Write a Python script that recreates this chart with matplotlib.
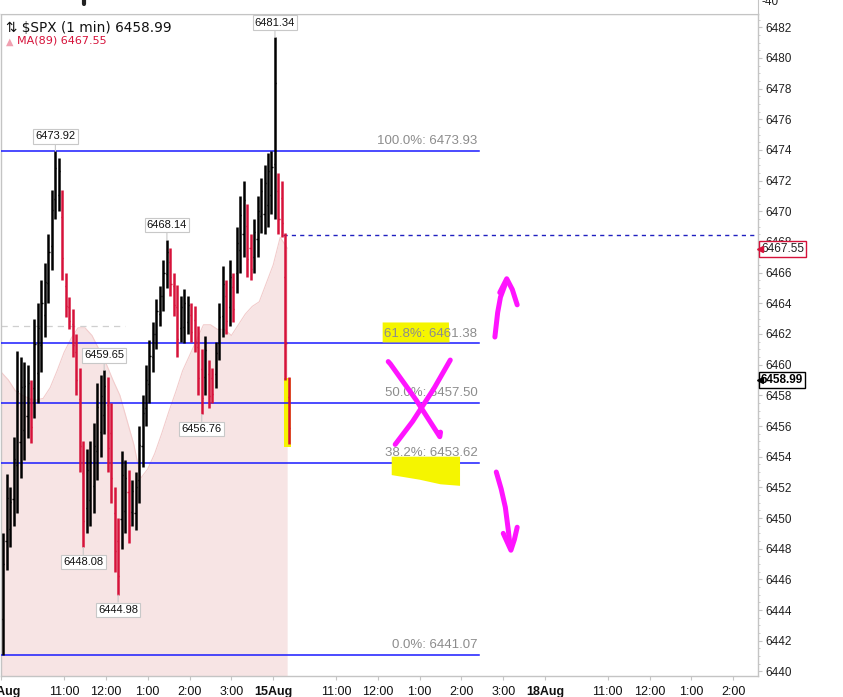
import matplotlib
matplotlib.use("Agg")
import matplotlib.pyplot as plt
from matplotlib.patches import Polygon
from matplotlib.ticker import MultipleLocator
import numpy as np

# 5-minute high/low, minutes counted from Aug 14 09:30
# (bars 0-77 = Aug 14 session, 78-82 = first minutes of Aug 15)
bar_high = [6449.0, 6452.9, 6452.0, 6455.3, 6460.9, 6460.5, 6460.2, 6460.0, 6459.0, 6463.0,
            6464.0, 6465.5, 6466.6, 6468.5, 6471.4, 6473.92, 6473.5, 6471.4, 6466.0, 6464.4,
            6463.6, 6462.0, 6459.8, 6455.0, 6454.5, 6455.0, 6456.2, 6458.8, 6459.3, 6459.65,
            6459.2, 6457.5, 6452.0, 6450.0, 6454.4, 6453.8, 6453.1, 6452.5, 6453.0, 6456.0,
            6458.0, 6460.0, 6461.6, 6462.8, 6464.3, 6465.1, 6466.8, 6468.14, 6467.6, 6466.0,
            6465.2, 6464.5, 6464.9, 6464.5, 6464.0, 6463.8, 6462.5, 6461.0, 6461.9, 6460.3,
            6459.8, 6461.5, 6464.0, 6466.4, 6465.5, 6466.8, 6466.0, 6469.0, 6471.0, 6472.0,
            6470.5, 6468.5, 6469.5, 6471.0, 6472.2, 6473.0, 6473.8, 6473.9,
            6481.34, 6472.5, 6472.0, 6468.6, 6459.2]
bar_low = [6441.07, 6446.6, 6448.1, 6449.5, 6450.3, 6452.6, 6453.8, 6455.2, 6454.9, 6456.5,
           6457.5, 6459.5, 6461.8, 6464.0, 6466.2, 6469.5, 6470.0, 6465.5, 6463.1, 6462.3,
           6460.5, 6458.0, 6453.0, 6448.08, 6449.0, 6449.5, 6450.3, 6452.5, 6454.0, 6455.5,
           6453.0, 6451.0, 6446.5, 6444.98, 6448.0, 6449.0, 6448.4, 6449.5, 6449.2, 6451.0,
           6453.3, 6456.0, 6457.5, 6459.5, 6461.0, 6462.5, 6463.5, 6465.0, 6464.5, 6463.2,
           6460.5, 6461.5, 6461.4, 6462.0, 6461.5, 6460.8, 6458.0, 6456.76, 6458.0, 6457.2,
           6457.5, 6458.5, 6460.3, 6461.8, 6462.0, 6462.5, 6462.8, 6464.7, 6466.0, 6467.0,
           6465.7, 6465.5, 6466.0, 6467.0, 6468.6, 6468.5, 6469.0, 6469.8,
           6469.5, 6468.5, 6468.3, 6459.0, 6454.8]
bar_minutes = 5

# MA(89), one reading every 10 minutes
ma89 = [6459.5, 6459.0, 6458.3, 6458.0, 6457.8, 6457.7, 6457.8, 6458.5, 6459.6, 6460.8,
        6461.7, 6462.4, 6462.4, 6461.9, 6461.0, 6460.1, 6459.0, 6458.0, 6456.4, 6454.8,
        6452.6, 6453.2, 6454.2, 6455.5, 6456.9, 6458.2, 6459.6, 6460.6, 6461.6, 6462.6,
        6462.6, 6462.3, 6462.3, 6461.9, 6462.6, 6463.3, 6463.8, 6464.1, 6465.3, 6466.5,
        6468.3, 6467.6]
ma_minutes = 10

fib_names = ["100.0%", "61.8%", "50.0%", "38.2%", "0.0%"]
fib_levels = [6473.93, 6461.38, 6457.50, 6453.62, 6441.07]
fib_end = 685

peak_min = [77.5, 392.5, 237.5, 147.5, 287.5, 117.5, 167.5]
peak_price = [6473.92, 6481.34, 6468.14, 6459.65, 6456.76, 6448.08, 6444.98]
peak_up = [True, True, True, True, False, False, False]

last_price = 6458.99
ma_last = 6467.55
prev_close = 6462.5
prev_close_end = 178
hline_level = 6468.45
hline_start = 404

tick_min = [0, 90, 150, 210, 270, 330, 390, 480, 540, 600, 660, 720, 780, 870, 930, 990, 1050]
tick_text = ["14Aug", "11:00", "12:00", "1:00", "2:00", "3:00", "15Aug", "11:00", "12:00",
             "1:00", "2:00", "3:00", "18Aug", "11:00", "12:00", "1:00", "2:00"]

# hand drawn marks (minute, price)
hl_618 = [(547, 6462.75), (642, 6462.75), (643, 6461.45), (547, 6461.45)]
hl_382 = [(560, 6454.0), (658, 6454.0), (658, 6452.1), (630, 6452.2), (600, 6452.5), (560, 6452.8)]
hl_last = [(406, 6459.1), (416, 6459.1), (416, 6454.6), (406, 6454.6)]
x_stroke1 = [(555, 6460.2), (558, 6460.05), (595, 6457.7), (629, 6455.3), (630, 6455.6)]
x_stroke2 = [(644, 6460.3), (620, 6458.4), (590, 6456.3), (565, 6454.8)]
up_shaft = [(708, 6461.8), (712, 6463.4), (716, 6464.4), (725, 6465.5)]
up_head = [(715, 6464.7), (725, 6465.6), (733, 6464.9), (740, 6463.9)]
dn_shaft = [(710, 6453.0), (717, 6451.9), (723, 6450.7), (727, 6449.3), (730, 6448.1)]
dn_head = [(720, 6449.0), (731, 6447.9), (736, 6448.6), (740, 6449.4)]

fig = plt.figure(figsize=(8.43, 6.97), dpi=100)
ax = fig.add_axes([0.0012, 0.0301, 0.8980, 0.9498])
top = fig.add_axes([0.0012, 0.9799, 0.8980, 0.0201])

font = "Liberation Sans"
grey = "#c4c4c4"

# MA area
ma_x = np.arange(len(ma89)) * ma_minutes
ax.fill_between(ma_x, 6430, ma89, color="#f7e4e4", lw=0, zorder=1)
ax.plot(ma_x, ma89, color="#f2cccc", lw=0.8, zorder=1)

# fib lines and labels
for name, lev in zip(fib_names, fib_levels):
    ax.plot([-1, fib_end], [lev, lev], color="#1a1aff", lw=1.1, zorder=3)
    ax.text(fib_end - 2, lev + 0.25, "%s: %.2f" % (name, lev), ha="right", va="bottom",
            color="#8c8c8c", fontsize=9.5, family=font, zorder=4)

ax.plot([0, prev_close_end], [prev_close, prev_close], color="#cfcfcf", lw=0.9,
        ls=(0, (5, 4)), zorder=2)
ax.plot([hline_start, 1100], [hline_level, hline_level], color="#2020c0", lw=1,
        ls=(0, (3, 3)), zorder=3)

# highlights
for poly in (hl_618, hl_382):
    ax.add_patch(Polygon(poly, closed=True, color="#f5f500", lw=0, zorder=3.5))
ax.add_patch(Polygon(hl_last, closed=True, color="#f5f500", lw=0, zorder=2))

# price bars
xs = np.arange(len(bar_high)) * bar_minutes + 2.5
mids = (np.array(bar_high) + np.array(bar_low)) / 2
for i in range(len(bar_high)):
    up = i == 0 or mids[i] >= mids[i - 1]
    c = "#000000" if up else "#d6123a"
    rng = bar_high[i] - bar_low[i]
    ax.vlines(xs[i], bar_low[i], bar_high[i], color=c, lw=1.8, zorder=5)
    ax.hlines(bar_low[i] + rng * (0.3 if up else 0.7), xs[i] - 1.6, xs[i], color=c, lw=1, zorder=5)
    ax.hlines(bar_low[i] + rng * (0.75 if up else 0.25), xs[i], xs[i] + 1.6, color=c, lw=1,
              zorder=5)

# peak labels
for m, p, is_up in zip(peak_min, peak_price, peak_up):
    off = 7 if is_up else -7
    ax.annotate("%.2f" % p, xy=(m, p), xytext=(0, off), textcoords="offset points",
                ha="center", va="bottom" if is_up else "top", fontsize=8, family=font,
                color="#111111", zorder=8,
                bbox=dict(boxstyle="square,pad=0.2", fc="white", ec="#c8c8c8", lw=0.8),
                arrowprops=dict(arrowstyle="-", color="#c8c8c8", lw=0.8, shrinkA=0, shrinkB=0))

# magenta marks
for stroke in (x_stroke1, x_stroke2, up_shaft, up_head, dn_shaft, dn_head):
    sx, sy = zip(*stroke)
    ax.plot(sx, sy, color="#ff14ff", lw=3.6, solid_capstyle="round",
            solid_joinstyle="round", zorder=9)

ax.set_xlim(-0.5, 1085.5)
ax.set_ylim(6439.7, 6482.86)

ax.yaxis.tick_right()
ax.set_yticks(np.arange(6440, 6483, 2))
ax.yaxis.set_minor_locator(MultipleLocator(0.5))
ax.tick_params(axis="y", which="major", length=3, color=grey, labelsize=8.5, pad=2,
               labelcolor="#222222")
ax.tick_params(axis="y", which="minor", length=1.5, color=grey)
for lab in ax.get_yticklabels():
    lab.set_family(font)

ax.set_xticks(tick_min)
ax.set_xticklabels(tick_text)
ax.tick_params(axis="x", length=3, color=grey, labelsize=9, pad=4, labelcolor="#111111")
for lab in ax.get_xticklabels():
    lab.set_family(font)
    if "Aug" in lab.get_text():
        lab.set_fontweight("bold")

for s in ax.spines.values():
    s.set_color(grey)
    s.set_linewidth(1)

# right edge price tags
yt = ax.get_yaxis_transform()
ax.text(1.004, ma_last, "%.2f" % ma_last, transform=yt, ha="left", va="center",
        fontsize=8.5, family=font, color="#222222", zorder=10, clip_on=False,
        bbox=dict(boxstyle="square,pad=0.15", fc="white", ec="#d6123a", lw=1))
ax.text(1.004, last_price, "%.2f" % last_price, transform=yt, ha="left", va="center",
        fontsize=8.5, family=font, fontweight="bold", color="black", zorder=10, clip_on=False,
        bbox=dict(boxstyle="square,pad=0.15", fc="white", ec="black", lw=1))
ax.plot([1.002], [ma_last], marker="<", ms=4, color="#d6123a", transform=yt, clip_on=False,
        zorder=11)
ax.plot([1.002], [last_price], marker="<", ms=4, color="black", transform=yt, clip_on=False,
        zorder=11)

# header
ax.text(0.006, 0.99, "\u21c5 $SPX (1 min) 6458.99", transform=ax.transAxes, ha="left",
        va="top", fontsize=9.8, family="DejaVu Sans", color="#111111", zorder=10)
ax.text(0.006, 0.966, "\u25b2", transform=ax.transAxes, ha="left", va="top", fontsize=7,
        color="#f0a0b0", zorder=10)
ax.text(0.021, 0.967, "MA(89) 6467.55", transform=ax.transAxes, ha="left", va="top",
        fontsize=8, family="DejaVu Sans", color="#d6123a", zorder=10)

# strip of the pane above
top.set_xlim(-0.5, 1085.5)
top.set_ylim(0, 1)
top.set_xticks([])
top.set_yticks([])
for s in top.spines.values():
    s.set_visible(False)
top.spines["bottom"].set_visible(True)
top.spines["bottom"].set_color(grey)
top.spines["right"].set_visible(True)
top.spines["right"].set_color(grey)
top.plot([119, 119], [0.7, 1.2], color="#222222", lw=3, solid_capstyle="round", clip_on=True)
top.text(1.004, 0.85, "-40", transform=top.transAxes, ha="left", va="center",
         fontsize=8.5, family=font, color="#222222", clip_on=False)

fig.savefig("out.png", dpi=100)
